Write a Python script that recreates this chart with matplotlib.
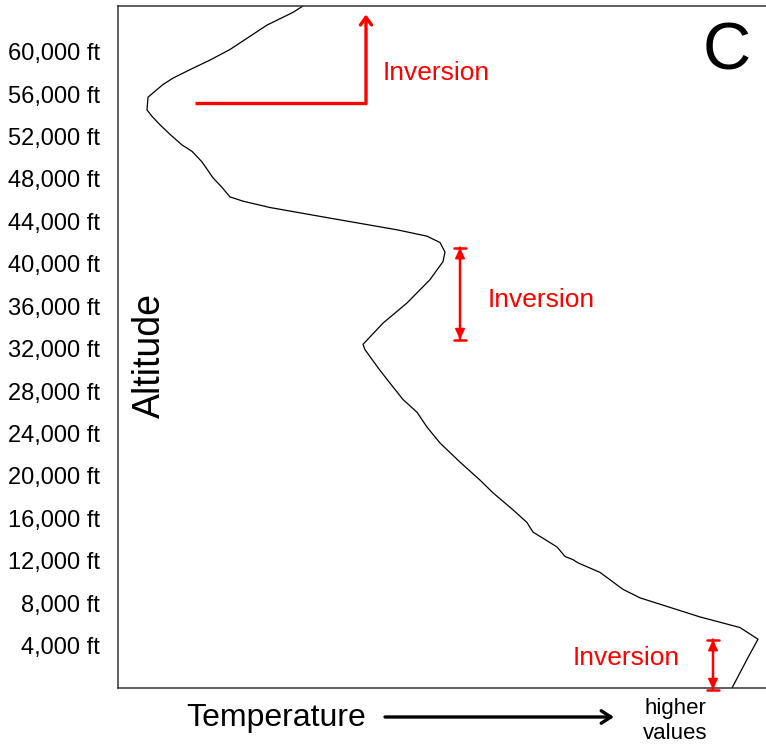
import numpy as np
import matplotlib
matplotlib.use('Agg')
import matplotlib.pyplot as plt

plt.rcParams['font.family'] = ['Liberation Sans', 'DejaVu Sans']

# temperature profile (arbitrary units, higher = warmer) vs altitude in ft
temperature = [185, 175, 149, 112, 92, 72, 55, 45, 35, 30, 29, 34, 42, 52, 64, 74,
               84, 95, 104, 112, 125, 152, 212, 279, 309, 322, 327, 325, 312, 289,
               265, 252, 245, 247, 260, 269, 285, 299, 309, 322, 342, 362, 375, 395,
               409, 415, 439, 447, 455, 460, 482, 505, 522, 542, 582, 622, 640, 629,
               614]
altitude = [64300, 63700, 62500, 60200, 59200, 58300, 57500, 56900, 56100, 55700,
            54500, 53900, 53100, 52200, 51200, 50600, 49600, 48100, 47200, 46300,
            45900, 45300, 44300, 43200, 42600, 42000, 41100, 40200, 38500, 36300,
            34400, 33100, 32400, 31900, 30200, 29100, 27200, 26000, 24600, 23100,
            21300, 19600, 18400, 16800, 15600, 14700, 13300, 12400, 12100, 11800,
            10900, 9300, 8500, 7900, 6700, 5700, 4600, 2700, 0]

tick_alts = list(range(4000, 64000, 4000))
tick_labels = ['{:,} ft'.format(a) for a in tick_alts]

fig = plt.figure(figsize=(7.66, 7.46), dpi=100)
ax = fig.add_axes([118/766, 1 - 688/746, 1 - 118/766, (688 - 6)/746])

ax.plot(temperature, altitude, color='black', lw=0.9, solid_joinstyle='round')
ax.set_xlim(0, 648)
ax.set_ylim(0, 64300)

ax.set_yticks(tick_alts)
ax.set_yticklabels(tick_labels, fontsize=17)
ax.set_xticks([])
ax.tick_params(axis='y', length=0, pad=13)
ax.spines['right'].set_visible(False)
for s in ['left', 'top', 'bottom']:
    ax.spines[s].set_color('#333333')
    ax.spines[s].set_linewidth(1.1)

red = '#ff0000'

# upper inversion: L shaped arrow
ax.plot([77, 248], [55190, 55190], color=red, lw=2.4, solid_capstyle='butt')
ax.annotate('', xy=(248, 63500), xytext=(248, 55100),
            arrowprops=dict(arrowstyle='->,head_length=0.55,head_width=0.4',
                            color=red, lw=2.4, shrinkA=0, shrinkB=0))
ax.text(265, 58020, 'Inversion', color=red, fontsize=19, ha='left', va='center')

# double arrows with bars
def span_arrow(x, y0, y1):
    ax.annotate('', xy=(x, y1), xytext=(x, y0), annotation_clip=False,
                arrowprops=dict(arrowstyle='<|-|>,head_length=0.65,head_width=0.3',
                                color=red, lw=1.2, shrinkA=0, shrinkB=0))
    ax.annotate('', xy=(x, y1), xytext=(x, y0), annotation_clip=False,
                arrowprops=dict(arrowstyle='|-|,widthA=0.4,widthB=0.4',
                                color=red, lw=1.8, shrinkA=0, shrinkB=0))

span_arrow(342, 32846, 41521)
ax.text(370, 36540, 'Inversion', color=red, fontsize=19, ha='left', va='center')

span_arrow(595, -150, 4563)
ax.text(455, 2866, 'Inversion', color=red, fontsize=19, ha='left', va='center')

ax.text(727/766, 1 - 52/746, 'C', transform=fig.transFigure, fontsize=48,
        ha='center', va='center')

fig.text(150/766, 1 - 355/746, 'Altitude', rotation=90, fontsize=27,
         ha='center', va='center')
fig.text(276/766, 1 - 718/746, 'Temperature', fontsize=23, ha='center', va='center')
fig.text(675/766, 1 - 721/746, 'higher\nvalues', fontsize=16, ha='center',
         va='center', linespacing=1.3)
ax.annotate('', xy=(614/766, 1 - 717/746), xytext=(385/766, 1 - 717/746),
            xycoords='figure fraction', textcoords='figure fraction',
            annotation_clip=False,
            arrowprops=dict(arrowstyle='->,head_length=0.7,head_width=0.45',
                            color='black', lw=2.4, shrinkA=0, shrinkB=0))

fig.savefig('out.png', dpi=100)
